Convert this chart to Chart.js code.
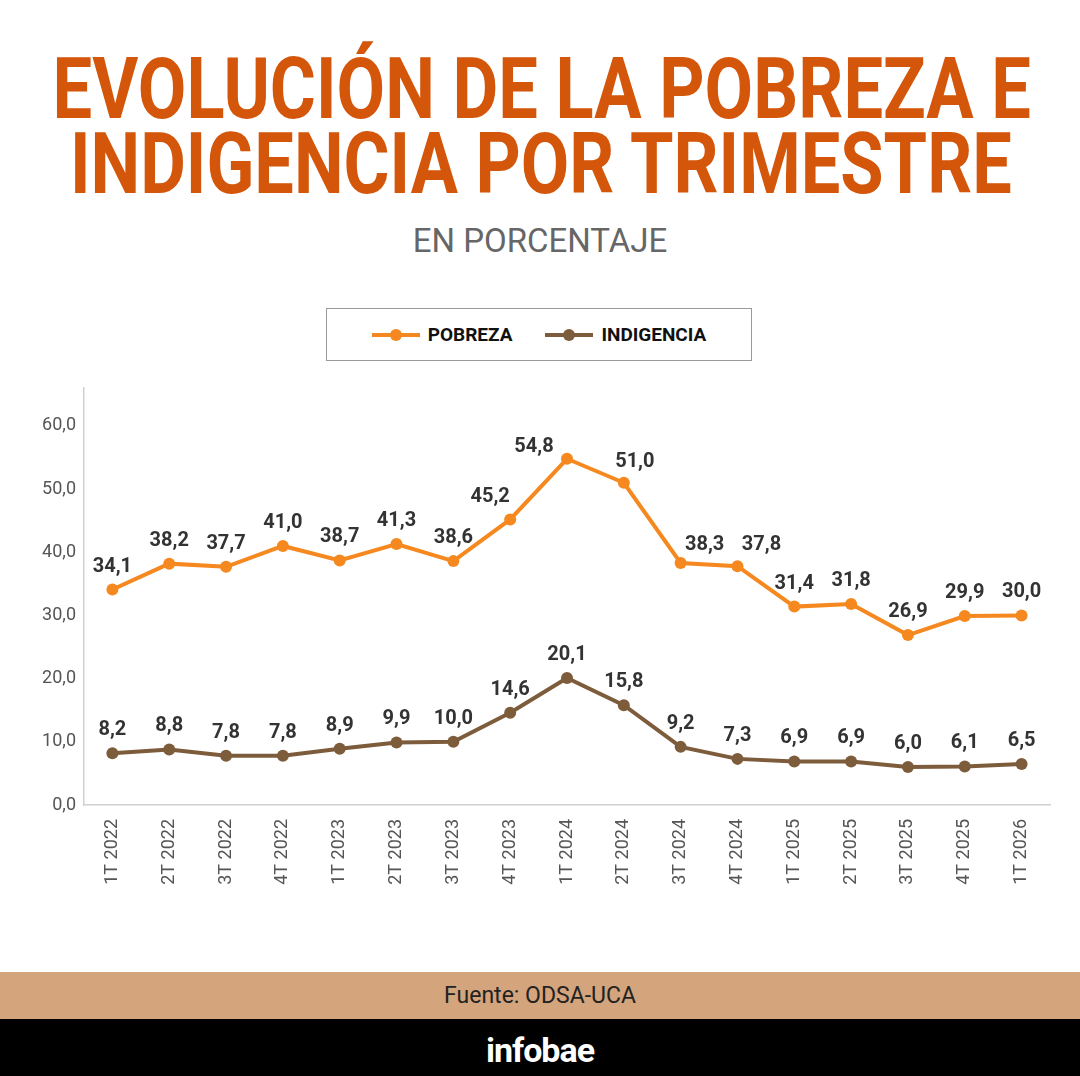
<!DOCTYPE html>
<html>
<head>
<meta charset="utf-8">
<script src="https://cdn.jsdelivr.net/npm/chart.js@4.4.1/dist/chart.umd.min.js"></script>
<style>
  html, body { margin: 0; padding: 0; background: #fff; }
  #page { position: relative; width: 1080px; height: 1076px; overflow: hidden; font-family: Roboto, sans-serif; }
  .titulo { position: absolute; left: 0; font-size: 86px; line-height: 86px;
            font-weight: 700; color: #D4560A; white-space: nowrap; transform-origin: center; }
  #subtitulo { position: absolute; left: 0; top: 224px; width: 1080px; text-align: center; font-size: 33px;
               line-height: 33px; color: #666; }
  #leyenda { position: absolute; left: 326px; top: 308px; width: 424px; height: 51px; border: 1px solid #999;
             display: flex; align-items: center; justify-content: center; gap: 33px; }
  .item { display: flex; align-items: center; font-weight: 700; font-size: 19px; color: #111; }
  .muestra { position: relative; width: 48px; height: 4px; margin-right: 8px; }
  .muestra i { position: absolute; left: 18px; top: -4px; width: 12px; height: 12px; border-radius: 50%; }
  #grafico { position: absolute; left: 0; top: 380px; }
  #fuente { position: absolute; left: 0; top: 972px; width: 1080px; height: 47px; background: #D4A47C;
            text-align: center; font-size: 23px; line-height: 48px; color: #222; }
  #marca { position: absolute; left: 0; top: 1019px; width: 1080px; height: 57px; background: #000;
           text-align: center; font-size: 34px; line-height: 62px; color: #fff; font-weight: 700; letter-spacing: -1px; }
</style>
</head>
<body>
<div id="page">
  <div class="titulo" id="t1" style="top:46px">EVOLUCIÓN DE LA POBREZA E</div>
  <div class="titulo" id="t2" style="top:121px">INDIGENCIA POR TRIMESTRE</div>
  <div id="subtitulo">EN PORCENTAJE</div>
  <div id="leyenda"></div>
  <canvas id="grafico" width="1080" height="530" style="width:1080px;height:530px"></canvas>
  <div id="fuente">Fuente: ODSA-UCA</div>
  <div id="marca">infobae</div>
</div>
<script>
// Datos del gráfico
const trimestres = ['1T 2022', '2T 2022', '3T 2022', '4T 2022', '1T 2023', '2T 2023', '3T 2023', '4T 2023',
  '1T 2024', '2T 2024', '3T 2024', '4T 2024', '1T 2025', '2T 2025', '3T 2025', '4T 2025', '1T 2026'];
const pobreza = [34.1, 38.2, 37.7, 41.0, 38.7, 41.3, 38.6, 45.2, 54.8, 51.0, 38.3, 37.8, 31.4, 31.8, 26.9, 29.9, 30.0];
const indigencia = [8.2, 8.8, 7.8, 7.8, 8.9, 9.9, 10.0, 14.6, 20.1, 15.8, 9.2, 7.3, 6.9, 6.9, 6.0, 6.1, 6.5];
const series = ['POBREZA', 'INDIGENCIA'];
const colores = ['#F5891F', '#7D5C3C'];

// Etiquetas que en el original están corridas para no pisar la línea (dx, dy desde el punto)
const corrimientos = [
  { 7: [-20, -17], 8: [-33, -7], 9: [11, -16], 10: [24, -13], 11: [24, -16] },
  {}
];

// Ajustar el ancho del título (fuente condensada), centrado en x = 541
function ajustar(id, ancho) {
  const el = document.getElementById(id);
  const w = el.offsetWidth;
  el.style.left = (541 - w / 2) + 'px';
  el.style.transform = 'scaleX(' + (ancho / w) + ')';
}
ajustar('t1', 978);
ajustar('t2', 942);

// Leyenda en HTML
const leyenda = document.getElementById('leyenda');
series.forEach((nombre, i) => {
  const item = document.createElement('div');
  item.className = 'item';
  item.innerHTML = '<div class="muestra" style="background:' + colores[i] + '"><i style="background:' + colores[i] +
    '"></i></div>' + nombre;
  leyenda.appendChild(item);
});

const coma = v => v.toFixed(1).replace('.', ',');

// Etiquetas de valores encima de cada punto
const etiquetas = {
  id: 'etiquetas',
  afterDatasetsDraw(chart) {
    const ctx = chart.ctx;
    ctx.save();
    ctx.font = 'bold 20px Roboto';
    ctx.fillStyle = '#333';
    ctx.textAlign = 'center';
    ctx.textBaseline = 'alphabetic';
    chart.data.datasets.forEach((ds, i) => {
      chart.getDatasetMeta(i).data.forEach((p, j) => {
        const c = corrimientos[i][j] || [0, -18];
        ctx.fillText(coma(ds.data[j]), p.x + c[0], p.y + c[1]);
      });
    });
    ctx.restore();
  }
};

Chart.defaults.font.family = 'Roboto';

const ctx = document.getElementById('grafico').getContext('2d');
new Chart(ctx, {
  type: 'line',
  data: {
    labels: trimestres,
    datasets: [pobreza, indigencia].map((d, i) => ({
      label: series[i],
      data: d,
      borderColor: colores[i],
      backgroundColor: colores[i],
      borderWidth: 4,
      pointRadius: 6,
      pointBorderWidth: 0,
      tension: 0
    }))
  },
  options: {
    responsive: false,
    animation: false,
    devicePixelRatio: 1,
    layout: { padding: { top: 8, right: 30, left: 0, bottom: 0 } },
    plugins: {
      legend: { display: false },
      tooltip: { enabled: false }
    },
    scales: {
      x: {
        offset: true,
        grid: { display: false, drawTicks: false },
        border: { display: true, color: '#d0d0d0', width: 1.5 },
        ticks: { minRotation: 90, maxRotation: 90, color: '#555', font: { size: 18 }, padding: 14 },
        afterFit(s) { s.height = 105; s.paddingLeft = 0; s.paddingRight = 0; }
      },
      y: {
        min: 0,
        max: 66,
        grid: { display: false, drawTicks: false },
        border: { display: true, color: '#d0d0d0', width: 1.5 },
        ticks: { stepSize: 10, includeBounds: false, color: '#555', font: { size: 18 }, padding: 8,
                 callback: v => coma(v) },
        afterFit(s) { s.width = 84; s.paddingTop = 0; s.paddingBottom = 0; }
      }
    }
  },
  plugins: [etiquetas]
});
</script>
</body>
</html>
